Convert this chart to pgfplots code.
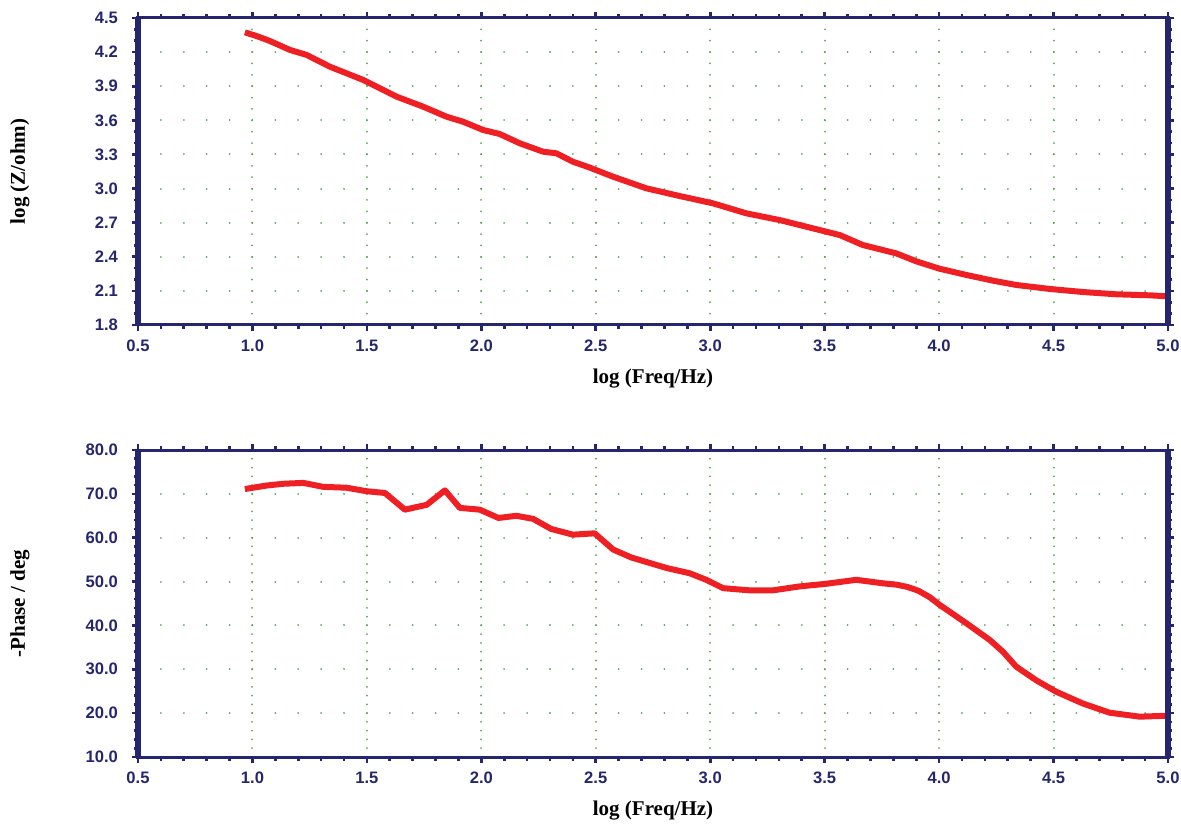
\documentclass[border=0pt]{standalone}
\usepackage{fontspec}
\setmainfont{Liberation Serif}
\setsansfont{Liberation Sans}
\usepackage{pgfplots}
\pgfplotsset{compat=1.18}
\definecolor{navy}{RGB}{38,38,110}
\definecolor{curve}{RGB}{238,32,36}
\definecolor{griddot}{RGB}{95,165,95}

\pgfplotsset{
  eis/.style={
    scale only axis, width=515pt, height=153.5pt,
    xmin=0.5, xmax=5.0,
    xtick={0.5,1.0,1.5,2.0,2.5,3.0,3.5,4.0,4.5,5.0},
    minor x tick num=4,
    tick align=outside,
    major tick length=3pt, minor tick length=2pt,
    every tick/.style={navy, line width=1.3pt},
    axis line style={navy, line width=1.5pt},
    xmajorgrids, ymajorgrids,
    y grid style={griddot, line width=1pt, line cap=round, dash pattern=on 0.01pt off 11.434pt},
    ticklabel style={font=\sffamily\bfseries\fontsize{8.3}{10}\selectfont, text=navy},
    yticklabel style={xshift=-3.5pt},
    xticklabel style={yshift=-1pt},
    /pgf/number format/assume math mode=true,
    /pgf/number format/fixed, /pgf/number format/fixed zerofill,
    /pgf/number format/precision=1,
    every axis x label/.style={at={(axis description cs:0.5,0)}, yshift=-27pt, anchor=center,
      font=\bfseries\fontsize{10.5}{12}\selectfont},
    every axis y label/.style={at={(axis description cs:-0.1146,0.5)}, rotate=90, anchor=center,
      font=\bfseries\fontsize{10.5}{12}\selectfont},
    xlabel={log (Freq/Hz)},
  }
}

\begin{document}
\begin{tikzpicture}
\begin{axis}[eis, name=top, at={(0,0)}, anchor=north west,
    ymin=1.8, ymax=4.5,
    ytick={1.8,2.1,2.4,2.7,3.0,3.3,3.6,3.9,4.2,4.5},
    minor y tick num=2,
    x grid style={griddot, line width=1pt, line cap=round, dash pattern=on 0.01pt off 5.675pt},
    ylabel={log (Z/ohm)},
]
\addplot[curve, line width=3pt, line join=round] coordinates {
(0.967,4.374) (1.02,4.34) (1.076,4.298) (1.164,4.219) (1.237,4.175)
(1.338,4.072) (1.484,3.955) (1.63,3.808) (1.746,3.72) (1.848,3.632)
(1.92,3.588) (2.008,3.515) (2.08,3.48) (2.168,3.398) (2.27,3.324)
(2.328,3.31) (2.40,3.236) (2.466,3.190) (2.576,3.104) (2.721,3.002)
(2.867,2.934) (3.012,2.87) (3.158,2.782) (3.303,2.723) (3.449,2.65)
(3.566,2.591) (3.667,2.503) (3.813,2.43) (3.9,2.36)
(4.002,2.295) (4.119,2.24) (4.235,2.19) (4.337,2.152) (4.483,2.117)
(4.629,2.09) (4.774,2.07) (4.92,2.061) (5.0,2.052)
};
\end{axis}
\draw[navy, line width=2.6pt] (top.south west) -- (top.north west);
\draw[navy, line width=2.6pt] (top.south east) -- (top.north east);

\begin{axis}[eis, name=bot, at={(0,-216pt)}, anchor=north west,
    ymin=10, ymax=80,
    ytick={10,20,30,40,50,60,70,80},
    minor y tick num=4,
    x grid style={griddot, line width=1pt, line cap=round, dash pattern=on 0.01pt off 4.376pt},
    ylabel={-Phase / deg},
]
\addplot[curve, line width=3pt, line join=round] coordinates {
(0.967,71.1) (1.062,71.9) (1.135,72.3) (1.222,72.5) (1.309,71.6)
(1.411,71.4) (1.499,70.6) (1.579,70.2) (1.666,66.4) (1.761,67.5)
(1.841,70.8) (1.906,66.8) (1.993,66.4) (2.075,64.5) (2.153,65.0)
(2.226,64.3) (2.305,62.0) (2.40,60.7) (2.495,61.0) (2.576,57.3)
(2.655,55.5) (2.809,53.1) (2.91,51.9) (2.983,50.4) (3.056,48.5)
(3.172,48.0) (3.274,48.0) (3.391,48.9) (3.507,49.5) (3.638,50.4)
(3.755,49.6) (3.813,49.3) (3.86,48.8) (3.91,47.9) (3.96,46.4) (4.002,44.7) (4.119,40.5)
(4.221,36.7) (4.279,34.0) (4.337,30.6) (4.424,27.5) (4.511,24.9)
(4.628,22.2) (4.745,20.1) (4.876,19.2) (4.993,19.4)
};
\end{axis}
\draw[navy, line width=2.6pt] (bot.south west) -- (bot.north west);
\draw[navy, line width=2.6pt] (bot.south east) -- (bot.north east);

\pgfresetboundingbox
\path (-69pt,9pt) rectangle (521.5pt,-402.5pt);
\end{tikzpicture}
\end{document}
